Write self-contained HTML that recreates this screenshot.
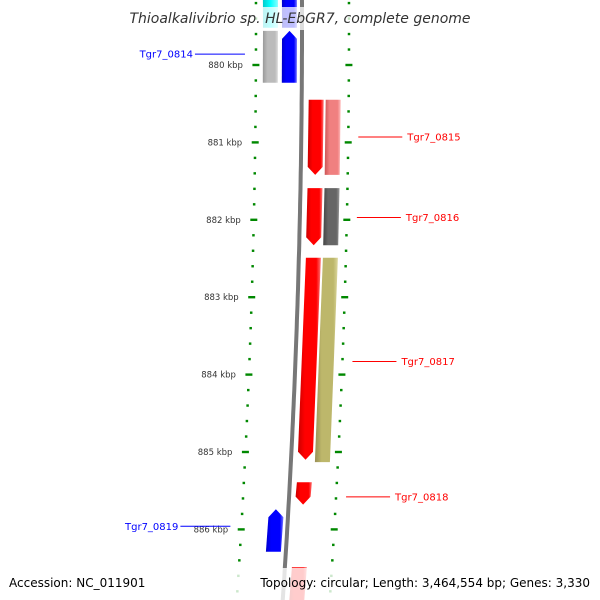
<!DOCTYPE html>
<html><head><meta charset="utf-8"><style>
html,body{margin:0;padding:0;background:#fff;width:600px;height:600px;overflow:hidden}
svg{display:block;font-family:"DejaVu Sans","Liberation Sans",sans-serif}
</style></head><body>
<svg id="map" width="600" height="600" viewBox="0 0 600 600" xmlns="http://www.w3.org/2000/svg">
<defs>
<linearGradient id="g-red" x1="0" x2="1"><stop offset="0" stop-color="#c00"/><stop offset="0.3" stop-color="#f00"/><stop offset="0.8" stop-color="#f00"/><stop offset="1" stop-color="#f77"/></linearGradient>
<linearGradient id="g-blue" x1="0" x2="1"><stop offset="0" stop-color="#00c"/><stop offset="0.3" stop-color="#00f"/><stop offset="0.8" stop-color="#00f"/><stop offset="1" stop-color="#77f"/></linearGradient>
<linearGradient id="g-gray" x1="0" x2="1"><stop offset="0" stop-color="#999"/><stop offset="0.3" stop-color="#bbb"/><stop offset="0.8" stop-color="#bbb"/><stop offset="1" stop-color="#ddd"/></linearGradient>
<linearGradient id="g-dark" x1="0" x2="1"><stop offset="0" stop-color="#444"/><stop offset="0.3" stop-color="#666"/><stop offset="0.8" stop-color="#666"/><stop offset="1" stop-color="#999"/></linearGradient>
<linearGradient id="g-pink" x1="0" x2="1"><stop offset="0" stop-color="#c55"/><stop offset="0.3" stop-color="#f08080"/><stop offset="0.8" stop-color="#f08080"/><stop offset="1" stop-color="#fbb"/></linearGradient>
<linearGradient id="g-khaki" x1="0" x2="1"><stop offset="0" stop-color="#998f55"/><stop offset="0.3" stop-color="#bdb76b"/><stop offset="0.8" stop-color="#bdb76b"/><stop offset="1" stop-color="#ddd8a0"/></linearGradient>
<linearGradient id="g-cyan" x1="0" x2="1"><stop offset="0" stop-color="#0cc"/><stop offset="0.5" stop-color="#0ff"/><stop offset="1" stop-color="#8ff"/></linearGradient>
<linearGradient id="g-back" x1="0" x2="1"><stop offset="0" stop-color="#555"/><stop offset="0.5" stop-color="#999"/><stop offset="1" stop-color="#666"/></linearGradient>
</defs>
<g id="layer"></g>
</svg>
<script>
// data
const tickKbp = [880, 881, 882, 883, 884, 885, 886];
const tickLabels = ["880 kbp", "881 kbp", "882 kbp", "883 kbp", "884 kbp", "885 kbp", "886 kbp"];
const geneStart = [879.10, 879.10, 879.56, 879.56, 880.45, 880.45, 881.59, 881.59, 882.49, 882.49, 885.39, 885.74, 886.49];
const geneEnd   = [879.52, 879.52, 880.23, 880.23, 881.42, 881.42, 882.33, 882.33, 885.10, 885.13, 885.68, 886.29, 887.10];
const geneLane  = [0, 1, 0, 1, 2, 3, 2, 3, 2, 3, 2, 1, 2];
const geneDir   = [0, 0, 0, -1, 1, 0, 1, 0, 1, 0, 1, -1, 1];
const geneFill  = ["cyan", "blue", "gray", "blue", "red", "pink", "red", "dark", "red", "khaki", "red", "blue", "red"];
const labelText = ["Tgr7_0814", "Tgr7_0815", "Tgr7_0816", "Tgr7_0817", "Tgr7_0818", "Tgr7_0819"];
const labelKbp  = [879.86, 880.93, 881.97, 883.83, 885.58, 885.96];
const labelSide = [-1, 1, 1, 1, 1, -1];

const NS = "http://www.w3.org/2000/svg";
const layer = document.getElementById('layer');
const Y0 = 65, PX = 77.4;
const yOf = k => Y0 + (k - 880) * PX;
const off = k => -0.35 * Math.pow(k - 879.5, 2);
const laneBase = [263, 282, 309, 326];
const LW = 15;
function mk(tag, attrs, parent) {
  const e = document.createElementNS(NS, tag);
  for (const a in attrs) e.setAttribute(a, attrs[a]);
  (parent || layer).appendChild(e);
  return e;
}
// dotted tracks
for (let i = 0; i <= 40; i++) {
  const k = 879.0 + i * 0.2;
  const y = yOf(k);
  if (y < -5 || y > 605) continue;
  const major = Math.abs(k - Math.round(k)) < 0.01;
  [256, 349].forEach((bx, side) => {
    const x = bx + off(k);
    const w = major ? 7 : 2.5;
    const d = mk('rect', {x: x - w / 2, y: y - 1.2, width: w, height: 2.4, fill: '#080'});
    
    
  });
}
// kbp labels
tickKbp.forEach((k, i) => {
  const t = mk('text', {x: 256 + off(k) - 13, y: yOf(k) + 3, 'font-size': 8.5, fill: '#333', 'text-anchor': 'end'});
  t.textContent = tickLabels[i];
  
  
});
// backbone
{
  const pts = [];
  for (let k = 879.0; k <= 887.2; k += 0.1) pts.push([302 + off(k), yOf(k)]);
  const d = 'M' + pts.map(p => p[0].toFixed(1) + ',' + p[1].toFixed(1)).join(' L');
  const bb = mk('path', {d: d, stroke: '#777', 'stroke-width': 4, fill: 'none'});
  
  
}
// genes
geneStart.forEach((s, i) => {
  const e = geneEnd[i], b = laneBase[geneLane[i]];
  const y1 = yOf(s), y2 = yOf(e);
  const x1 = b + off(s), x2 = b + off(e);
  const dir = geneDir[i], h = 8;
  let pts;
  if (dir === 1) {
    pts = [[x1, y1], [x1 + LW, y1], [x2 + LW, y2 - h], [x2 + LW / 2, y2], [x2, y2 - h]];
  } else if (dir === -1) {
    pts = [[x1 + LW / 2, y1], [x1 + LW, y1 + h], [x2 + LW, y2], [x2, y2], [x1, y1 + h]];
  } else {
    pts = [[x1, y1], [x1 + LW, y1], [x2 + LW, y2], [x2, y2]];
  }
  const p = mk('polygon', {points: pts.map(q => q[0].toFixed(1) + ',' + q[1].toFixed(1)).join(' '), fill: 'url(#g-' + geneFill[i] + ')'});
  
  
});
// labels
labelText.forEach((t, i) => {
  const k = labelKbp[i], y = yOf(k);
  const col = labelSide[i] < 0 ? '#00f' : '#f00';
  let lx1, lx2, tx, anchor;
  if (labelSide[i] < 0) { lx2 = 248 + off(k) - 3; lx1 = lx2 - 50; tx = lx1 - 2; anchor = 'end'; }
  else { lx1 = 357 + off(k) + 2; lx2 = lx1 + 44; tx = lx2 + 5; anchor = 'start'; }
  const l = mk('line', {x1: lx1, y1: y, x2: lx2, y2: y, stroke: col, 'stroke-width': 1});
  
  
  const tt = mk('text', {x: tx, y: y + 3.5, 'font-size': 10, fill: col, 'text-anchor': anchor});
  tt.textContent = t;
  
  
});
// title and footer bands
const tb = mk('rect', {x: 0, y: 7, width: 600, height: 23, fill: 'rgba(255,255,255,0.75)'});


const title = mk('text', {x: 300, y: 23, 'font-size': 14, 'font-style': 'italic', fill: '#333', 'text-anchor': 'middle'});
title.textContent = 'Thioalkalivibrio sp. HL-EbGR7, complete genome';


const fb = mk('rect', {x: 0, y: 568, width: 600, height: 32, fill: 'rgba(255,255,255,0.8)'});


const acc = mk('text', {x: 9, y: 587, 'font-size': 12, fill: '#000'});
acc.textContent = 'Accession: NC_011901';


const topo = mk('text', {x: 590, y: 587, 'font-size': 12, fill: '#000', 'text-anchor': 'end'});
topo.textContent = 'Topology: circular; Length: 3,464,554 bp; Genes: 3,330';


</script>
</body></html>
